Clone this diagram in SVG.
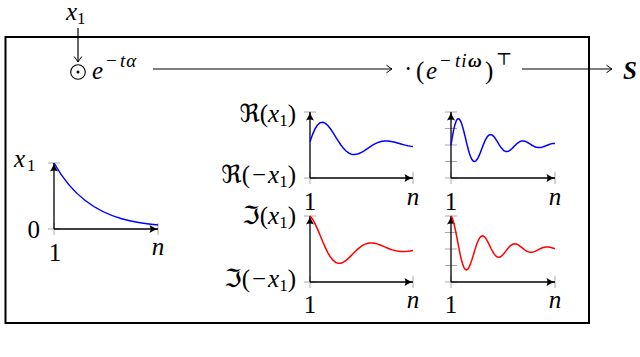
<svg xmlns="http://www.w3.org/2000/svg" width="640" height="357" viewBox="0 0 640 357">
<defs>
<style>
.m{font-family:'Liberation Serif','DejaVu Serif',serif;font-size:25px;fill:#000}
.i{font-style:italic}
.s{font-size:17px}
.p{font-size:19px}
.sym{font-family:'DejaVu Serif','DejaVu Sans',serif}
.ax{stroke:#000;stroke-width:1.3;fill:none;marker-end:url(#ah)}
.tk{stroke:#aaa;stroke-width:1;fill:none}
.cb{fill:none;stroke:#0000ff;stroke-width:1.5;vector-effect:non-scaling-stroke;stroke-linejoin:round}
.cr{fill:none;stroke:#ff0000;stroke-width:1.5;vector-effect:non-scaling-stroke;stroke-linejoin:round}
.cn{stroke:#000;stroke-width:1.2;fill:none;marker-end:url(#to)}
</style>
<marker id="ah" viewBox="-9 -5 10 10" refX="0" refY="0" markerWidth="10" markerHeight="10" markerUnits="userSpaceOnUse" orient="auto">
<path d="M-8.5,-4 Q-4,-1 0,0 Q-4,1 -8.5,4 Q-6.5,0 -8.5,-4 Z" fill="#000"/>
</marker>
<marker id="to" viewBox="-7 -5 8 10" refX="0" refY="0" markerWidth="8" markerHeight="10" markerUnits="userSpaceOnUse" orient="auto">
<path d="M-5.5,-3.8 Q-1.5,-0.8 0,0 Q-1.5,0.8 -5.5,3.8" fill="none" stroke="#000" stroke-width="1"/>
</marker>
</defs>
<rect width="640" height="357" fill="#fff"/>

<g id="frame"><rect x="5.5" y="37" width="583.5" height="286" fill="none" stroke="#000" stroke-width="2"/></g>

<g id="input-x1"><text class="m" y="20" font-size="23"><tspan class="i" x="66">x</tspan><tspan class="s" x="77" y="24">1</tspan></text></g>

<g id="odot"><circle cx="78" cy="72" r="7.3" fill="none" stroke="#000" stroke-width="1.1"/><circle cx="78" cy="72" r="1.5" fill="#000"/></g>

<g id="exp-alpha"><text class="m" y="79"><tspan class="i" x="92">e</tspan><tspan class="p" x="106" y="67">−</tspan><tspan class="p i" x="120" y="67" letter-spacing="1">tα</tspan></text></g>

<g id="fourier"><text class="m" y="79"><tspan x="404" y="77">·</tspan><tspan x="416" y="79">(</tspan><tspan class="i" x="426">e</tspan><tspan class="p" x="440" y="67">−</tspan><tspan class="p i" x="455" y="67" letter-spacing="1">ti</tspan><tspan class="p" x="468" y="67" font-weight="bold" font-style="italic">ω</tspan><tspan x="485" y="79">)</tspan><tspan class="sym" x="496" y="65" font-size="17">⊤︎</tspan></text></g>

<g id="output-S"><text class="m" x="623" y="79" font-weight="bold" font-style="italic" font-size="26">S</text></g>

<g id="plot-decay">
<path class="tk" d="M48,163H60M48,229H60M54,223V235M158,223V235"/>
<line class="ax" x1="54" y1="229" x2="54" y2="163"/>
<line class="ax" x1="54" y1="229" x2="158" y2="229"/>
<path d="M54,163 C64.4,181.5 74.8,192.5 85.2,200.5 C109.4,219.1 133.8,222.3 158,225" fill="none" stroke="#0000ff" stroke-width="1.5"/>
<text class="m"><tspan class="i" x="14" y="167">x</tspan><tspan class="s" x="27" y="171">1</tspan></text>
<text class="m" x="40" y="238" text-anchor="end">0</text>
<text class="m" x="55" y="261" text-anchor="middle">1</text>
<text class="m i" x="158" y="255" text-anchor="middle">n</text>
</g>

<g id="plot-re1">
<path class="tk" d="M304,112H316M304,178H316M310,172V184M413,172V184"/>
<line class="ax" x1="310" y1="178" x2="310" y2="112"/>
<line class="ax" x1="310" y1="178" x2="413" y2="178"/>
<polyline class="cb" transform="translate(310,145) scale(2.575,-33)" points="0,0.100 1,0.322 2,0.496 3,0.614 4,0.678 5,0.690 6,0.656 7,0.585 8,0.485 9,0.368 10,0.241 11,0.116 12,0.001 13,-0.101 14,-0.182 15,-0.241 16,-0.277 17,-0.290 18,-0.284 19,-0.259 20,-0.222 21,-0.175 22,-0.122 23,-0.070 24,-0.019 25,0.026 26,0.064 27,0.092 28,0.111 29,0.120 30,0.121 31,0.113 32,0.100 33,0.082 34,0.061 35,0.038 36,0.016 37,-0.004 38,-0.021 39,-0.034 40,-0.044"/>
<text class="m" x="296" y="122" text-anchor="end"><tspan class="sym">ℜ</tspan>(<tspan class="i">x</tspan><tspan class="s" dy="4">1</tspan><tspan dy="-4">)</tspan></text>
<text class="m" x="296" y="183" text-anchor="end"><tspan class="sym">ℜ</tspan>(<tspan dx="2">−</tspan><tspan class="i" dx="2">x</tspan><tspan class="s" dy="4">1</tspan><tspan dy="-4">)</tspan></text>
<text class="m" x="310" y="210" text-anchor="middle">1</text>
<text class="m i" x="413" y="205" text-anchor="middle">n</text>
</g>

<g id="plot-re2">
<path class="tk" d="M445,112H457M445,128.5H457M445,145H457M445,161.5H457M445,178H457M451,172V184M555,172V184"/>
<line class="ax" x1="451" y1="178" x2="451" y2="112"/>
<line class="ax" x1="451" y1="178" x2="555" y2="178"/>
<polyline class="cb" transform="translate(451,145) scale(1.3,-33)" points="0,0 1,0.2415 2,0.4502 3,0.6156 4,0.7305 5,0.7911 6,0.7975 7,0.7533 8,0.6651 9,0.5413 10,0.3927 11,0.2299 12,0.0645 13,-0.0930 14,-0.2333 15,-0.3487 16,-0.4341 17,-0.4861 18,-0.5033 19,-0.4879 20,-0.4430 21,-0.3735 22,-0.2855 23,-0.1859 24,-0.0819 25,0.0198 26,0.1129 27,0.1922 28,0.2535 29,0.2946 30,0.3143 31,0.3127 32,0.2916 33,0.2537 34,0.2026 35,0.1424 36,0.0776 37,0.0127 38,-0.0484 39,-0.1020 40,-0.1453 41,-0.1764 42,-0.1941 43,-0.1984 44,-0.1898 45,-0.1700 46,-0.1410 47,-0.1051 48,-0.0652 49,-0.0241 50,0.0155 51,0.0513 52,0.0813 53,0.1039 54,0.1185 55,0.1245 56,0.1223 57,0.1126 58,0.0964 59,0.0755 60,0.0512 61,0.0255 62,0 63,-0.0236 64,-0.0440 65,-0.0602 66,-0.0715 67,-0.0774 68,-0.0780 69,-0.0737 70,-0.0651 71,-0.0530 72,-0.0384 73,-0.0225 74,-0.0063 75,0.0091 76,0.0228 77,0.0341 78,0.0425 79,0.0475 80,0.0492"/>
<text class="m" x="451" y="210" text-anchor="middle">1</text>
<text class="m i" x="555" y="205" text-anchor="middle">n</text>
</g>

<g id="plot-im1">
<path class="tk" d="M304,216H316M304,282H316M310,276V288M413,276V288"/>
<line class="ax" x1="310" y1="282" x2="310" y2="216"/>
<line class="ax" x1="310" y1="282" x2="413" y2="282"/>
<polyline class="cr" transform="translate(310,249) scale(2.575,-33)" points="0,1 1,0.902 2,0.760 3,0.588 4,0.400 5,0.211 6,0.033 7,-0.123 8,-0.251 9,-0.347 10,-0.408 11,-0.435 12,-0.430 13,-0.399 14,-0.344 15,-0.277 16,-0.200 17,-0.121 18,-0.043 19,0.027 20,0.086 21,0.131 22,0.162 23,0.180 24,0.182 25,0.174 26,0.155 27,0.128 28,0.097 29,0.064 30,0.031 31,0.000 32,-0.027 33,-0.048 34,-0.064 35,-0.073 36,-0.076 37,-0.075 38,-0.069 39,-0.058 40,-0.046"/>
<text class="m" x="296" y="224" text-anchor="end"><tspan class="sym">ℑ</tspan>(<tspan class="i">x</tspan><tspan class="s" dy="4">1</tspan><tspan dy="-4">)</tspan></text>
<text class="m" x="296" y="287" text-anchor="end"><tspan class="sym">ℑ</tspan>(<tspan dx="2">−</tspan><tspan class="i" dx="2">x</tspan><tspan class="s" dy="4">1</tspan><tspan dy="-4">)</tspan></text>
<text class="m" x="310" y="313" text-anchor="middle">1</text>
<text class="m i" x="413" y="308" text-anchor="middle">n</text>
</g>

<g id="plot-im2">
<path class="tk" d="M445,216H457M445,232.5H457M445,249H457M445,265.5H457M445,282H457M451,276V288M555,276V288"/>
<line class="ax" x1="451" y1="282" x2="451" y2="216"/>
<line class="ax" x1="451" y1="282" x2="555" y2="282"/>
<polyline class="cr" transform="translate(451,249) scale(1.3,-33)" points="0,1 1,0.9325 2,0.8112 3,0.6478 4,0.4553 5,0.2482 6,0.0405 7,-0.1548 8,-0.3262 9,-0.4648 10,-0.5641 11,-0.6208 12,-0.6343 13,-0.6070 14,-0.5437 15,-0.4507 16,-0.3358 17,-0.2086 18,-0.0771 19,0.0496 20,0.1640 21,0.2599 22,0.3325 23,0.3790 24,0.3983 25,0.3911 26,0.3599 27,0.3083 28,0.2412 29,0.1636 30,0.0815 31,0 32,-0.0755 33,-0.1408 34,-0.1925 35,-0.2284 36,-0.2473 37,-0.2494 38,-0.2356 39,-0.2080 40,-0.1693 41,-0.1228 42,-0.0720 43,-0.0202 44,0.0290 45,0.0729 46,0.1090 47,0.1357 48,0.1519 49,0.1574 50,0.1526 51,0.1385 52,0.1168 53,0.0893 54,0.0582 55,0.0256 56,-0.0062 57,-0.0353 58,-0.0601 59,-0.0793 60,-0.0921 61,-0.0983 62,-0.0978 63,-0.0912 64,-0.0793 65,-0.0634 66,-0.0446 67,-0.0243 68,-0.0040 69,0.0151 70,0.0319 71,0.0455 72,0.0551 73,0.0608 74,0.0621 75,0.0594 76,0.0532 77,0.0441 78,0.0329 79,0.0204 80,0.0076"/>
<text class="m" x="451" y="313" text-anchor="middle">1</text>
<text class="m i" x="555" y="308" text-anchor="middle">n</text>
</g>

<g id="connectors">
<line class="cn" x1="78" y1="28" x2="78" y2="62"/>
<line class="cn" x1="153" y1="69" x2="392" y2="69"/>
<line class="cn" x1="522" y1="69" x2="612" y2="69"/>
</g>
</svg>
